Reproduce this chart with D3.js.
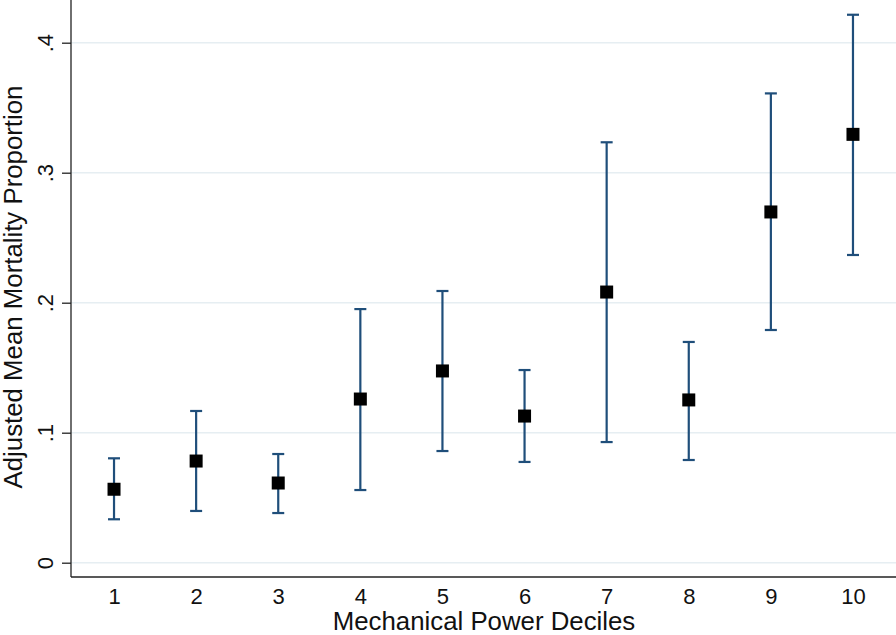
<!DOCTYPE html>
<html><head><meta charset="utf-8">
<script src="https://cdn.jsdelivr.net/npm/d3@7"></script>
<style>body{margin:0;background:#fff}svg{display:block}text{font-family:"Liberation Sans",Arial,sans-serif;fill:#111}</style>
</head><body><svg id="c" width="896" height="635"></svg>
<script>
const deciles = [1,2,3,4,5,6,7,8,9,10];
const means = [0.0565,0.0782,0.0613,0.1259,0.1475,0.1128,0.2082,0.1252,0.2698,0.3295];
const lower = [0.0334,0.0398,0.0382,0.0559,0.0859,0.0775,0.0928,0.0790,0.1790,0.2367];
const upper = [0.0803,0.1167,0.0836,0.1951,0.2090,0.1482,0.3234,0.1698,0.3610,0.4215];
const yTicks = [0,0.1,0.2,0.3,0.4];
const yTickLabels = ["0",".1",".2",".3",".4"];

const svg = d3.select("#c");
const x = d3.scaleLinear().domain([0.476,10.524]).range([71,896]);
const y = d3.scaleLinear().domain([0,0.4]).range([562.7,42.7]);
const yBottom = 577, yTop = 0;

// gridlines
svg.append("g").selectAll("line").data(yTicks).join("line")
  .attr("x1",71).attr("x2",896).attr("y1",d=>y(d)).attr("y2",d=>y(d))
  .attr("stroke","#e6eef2").attr("stroke-width",1.6);

// y axis
const yAxis = d3.axisLeft(y).tickValues(yTicks).tickFormat((d,i)=>yTickLabels[i]).tickSize(9).tickPadding(8);
const gy = svg.append("g").attr("transform","translate(71,0)").call(yAxis);
gy.select(".domain").remove();
gy.selectAll(".tick line").attr("stroke","#222").attr("stroke-width",1.3);
gy.selectAll(".tick text").attr("font-size",22).attr("fill","#111")
  .attr("text-anchor","middle").attr("dy",0).attr("x",0).attr("y",0)
  .attr("transform","translate(-18,0) rotate(-90)");
svg.append("line").attr("x1",71).attr("x2",71).attr("y1",yTop).attr("y2",yBottom)
  .attr("stroke","#222").attr("stroke-width",1.3);

// x axis
const xAxis = d3.axisBottom(x).tickValues(deciles).tickFormat(d3.format("d")).tickSize(0).tickPadding(11);
const gx = svg.append("g").attr("transform",`translate(0,${yBottom})`).call(xAxis);
gx.select(".domain").remove();
gx.selectAll(".tick text").attr("font-size",22).attr("fill","#111");
svg.append("line").attr("x1",71).attr("x2",896).attr("y1",yBottom).attr("y2",yBottom)
  .attr("stroke","#222").attr("stroke-width",1.3);

// error bars
const data = deciles.map((d,i)=>({d,m:means[i],lo:lower[i],hi:upper[i]}));
const eb = svg.append("g").attr("stroke","#1f4e7a").attr("stroke-width",2.2).attr("fill","none");
eb.selectAll(".v").data(data).join("line")
  .attr("x1",d=>x(d.d)).attr("x2",d=>x(d.d)).attr("y1",d=>y(d.lo)).attr("y2",d=>y(d.hi));
const capW = 6;
eb.selectAll(".ct").data(data).join("line")
  .attr("x1",d=>x(d.d)-capW).attr("x2",d=>x(d.d)+capW).attr("y1",d=>y(d.hi)).attr("y2",d=>y(d.hi));
eb.selectAll(".cb").data(data).join("line")
  .attr("x1",d=>x(d.d)-capW).attr("x2",d=>x(d.d)+capW).attr("y1",d=>y(d.lo)).attr("y2",d=>y(d.lo));

// markers
const ms = 13;
svg.append("g").selectAll("rect").data(data).join("rect")
  .attr("x",d=>x(d.d)-ms/2).attr("y",d=>y(d.m)-ms/2).attr("width",ms).attr("height",ms)
  .attr("fill","#000");

// titles
svg.append("text").attr("x",484).attr("y",630).attr("text-anchor","middle")
  .attr("font-size",25.8).text("Mechanical Power Deciles");
svg.append("text").attr("transform",`translate(22,${287}) rotate(-90)`).attr("text-anchor","middle")
  .attr("font-size",25.8).text("Adjusted Mean Mortality Proportion");
</script></body></html>
